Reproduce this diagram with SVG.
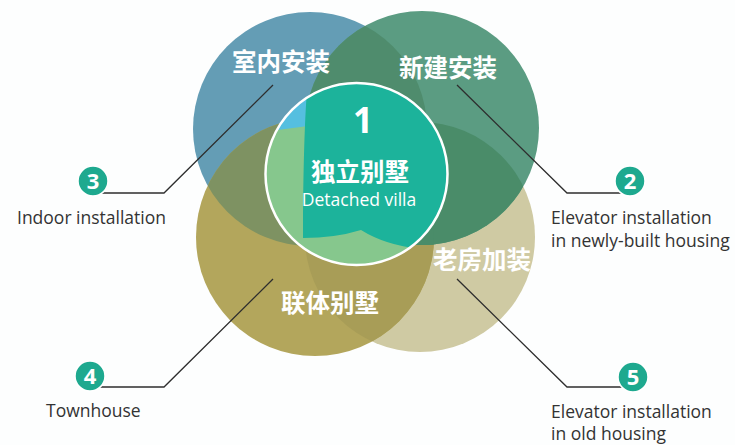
<svg xmlns="http://www.w3.org/2000/svg" width="735" height="445" viewBox="0 0 735 445">
<style>
.cjk{font-family:"Noto Sans CJK SC","Noto Sans",sans-serif;font-weight:700;fill:#fff;text-anchor:middle}
.en{font-family:"Open Sans","Liberation Sans",sans-serif;fill:#333;font-size:17.5px}
.lead{fill:none;stroke:#2e2e2e;stroke-width:1.3}
.dot{fill:#1ea98f;stroke:#fff;stroke-width:1.5}
.num{font-family:"Open Sans","Liberation Sans",sans-serif;font-weight:700;font-size:22px;fill:#fff;text-anchor:middle}
</style>
<defs>
<clipPath id="cBlue"><circle cx="310" cy="129" r="117"/></clipPath>
<clipPath id="cTan"><circle cx="420" cy="237" r="115"/></clipPath>
<clipPath id="cOlive"><circle cx="315" cy="237" r="119"/></clipPath>
<clipPath id="cCenter"><circle cx="356.5" cy="174" r="91"/></clipPath>
</defs>
<rect width="735" height="445" fill="#fdfefe"/>

<g id="circle-tan">
<circle cx="420" cy="237" r="115" fill="#cfcaa3"/>
</g>
<g id="circle-blue">
<circle cx="310" cy="129" r="117" fill="#649db5"/>
</g>
<g id="circle-olive">
<circle cx="315" cy="237" r="119" fill="#b3a65c"/>
<circle cx="315" cy="237" r="119" fill="#7e9262" clip-path="url(#cBlue)"/>
<circle cx="315" cy="237" r="119" fill="#a89d57" clip-path="url(#cTan)"/>
</g>
<g id="circle-green">
<circle cx="422" cy="128" r="117" fill="#5b9c82"/>
<circle cx="422" cy="128" r="117" fill="#4f8c6d" clip-path="url(#cBlue)"/>
<circle cx="422" cy="128" r="117" fill="#4a8c69" clip-path="url(#cTan)"/>
<circle cx="422" cy="128" r="117" fill="#4a8c69" clip-path="url(#cOlive)"/>
</g>

<g id="center">
<g clip-path="url(#cCenter)">
<rect x="260" y="80" width="200" height="190" fill="#86c78d"/>
<path d="M270 80 L310 80 L308 126 L270 131 Z" fill="#55bfe0"/>
<path d="M308 78 C304 120 303 190 303 238 Q 335 238 361 230 Q 385 245 420 249 L460 249 L460 70 Z" fill="#1cb39b"/>
</g>
<circle cx="356.5" cy="174" r="91" fill="none" stroke="#fff" stroke-width="2.5"/>
<text x="363" y="133" font-family="Open Sans, Liberation Sans, sans-serif" font-weight="700" font-size="35" fill="#fff" text-anchor="middle">1</text>
<text class="cjk" x="360" y="181" font-size="24.5">独立别墅</text>
<text x="359" y="206" font-family="Open Sans, Liberation Sans, sans-serif" font-size="17.5" fill="#fff" text-anchor="middle">Detached villa</text>
</g>

<g id="labels-cjk">
<text class="cjk" x="281" y="71" font-size="24.5">室内安装</text>
<text class="cjk" x="448" y="77" font-size="24.5">新建安装</text>
<text class="cjk" x="482" y="269" font-size="24.5">老房加装</text>
<text class="cjk" x="330" y="312" font-size="24.5">联体别墅</text>
</g>

<g id="connectors">
<polyline class="lead" points="273,85 164,193 100,193"/>
<polyline class="lead" points="457,85 567,193 622,193"/>
<polyline class="lead" points="273,279 164,387 100,387"/>
<polyline class="lead" points="457,279 567,387 622,387"/>
</g>

<g id="item-3">
<circle class="dot" cx="93" cy="181" r="15"/><text class="num" x="93" y="189">3</text>
<text class="en" x="17" y="224">Indoor installation</text>
</g>
<g id="item-2">
<circle class="dot" cx="630" cy="181" r="15"/><text class="num" x="630" y="189">2</text>
<text class="en" x="551" y="224">Elevator installation</text>
<text class="en" x="551" y="247">in newly-built housing</text>
</g>
<g id="item-4">
<circle class="dot" cx="90" cy="376" r="15"/><text class="num" x="90" y="384">4</text>
<text class="en" x="46" y="417">Townhouse</text>
</g>
<g id="item-5">
<circle class="dot" cx="633" cy="377" r="15"/><text class="num" x="633" y="385">5</text>
<text class="en" x="551" y="418">Elevator installation</text>
<text class="en" x="551" y="440">in old housing</text>
</g>
</svg>
